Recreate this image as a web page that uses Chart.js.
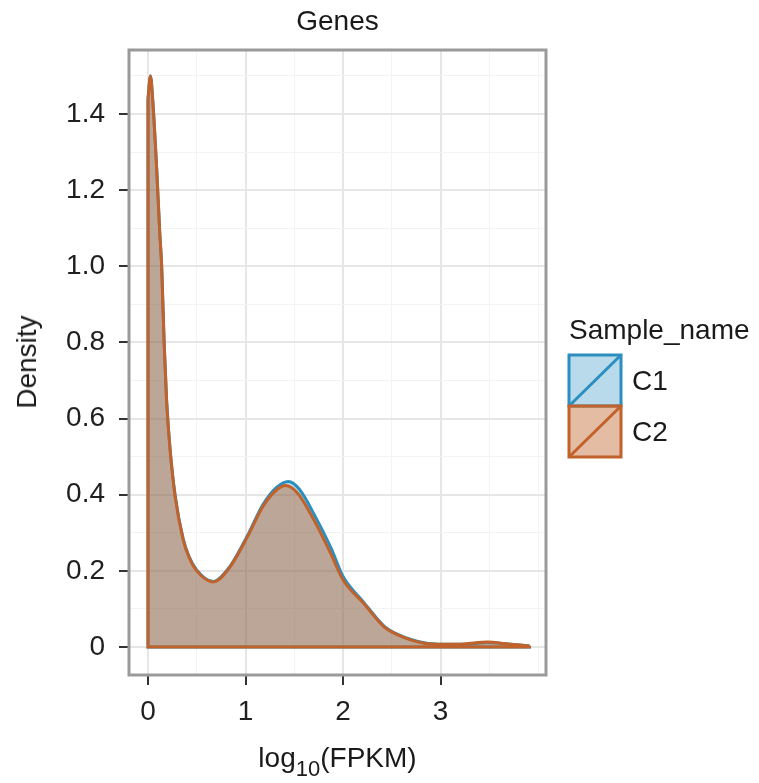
<!DOCTYPE html>
<html lang="en">
<head>
  <meta charset="UTF-8">
  <title>Genes - density</title>
  <script src="https://cdn.jsdelivr.net/npm/chart.js"></script>
  <style>
    body {
      margin: 0;
      background: #ffffff;
      font-family: 'Liberation Sans', Arial, sans-serif;
      color: #1a1a1a;
    }
    #wrap {
      position: relative;
      width: 759px;
      height: 783px;
    }
    canvas { position: absolute; left: 0; top: 0; }
    .txt {
      position: absolute;
      font-size: 28px;
      line-height: 34px;
      white-space: nowrap;
    }
    #title { left: 129px; width: 417px; top: 4px; text-align: center; }
    #xlab { left: 129px; width: 417px; top: 741px; text-align: center; }
    #xlab sub { font-size: 22px; vertical-align: -9px; line-height: 0; }
    #ylab { left: 27px; top: 362px; transform: translate(-50%, -50%) rotate(-90deg); }
    #legTitle { left: 569px; top: 313px; }
    .legLabel { left: 632px; }
    #keys { position: absolute; left: 567px; top: 353px; }
  </style>
</head>
<body>
  <div id="wrap">
    <canvas id="densityChart" width="759" height="783"></canvas>
    <div class="txt" id="title">Genes</div>
    <div class="txt" id="ylab">Density</div>
    <div class="txt" id="xlab">log<sub>10</sub>(FPKM)</div>
    <div class="txt" id="legTitle">Sample_name</div>
    <svg id="keys" width="56" height="108"></svg>
    <div class="txt legLabel" style="top: 364px;">C1</div>
    <div class="txt legLabel" style="top: 415px;">C2</div>
  </div>

  <script>
    // values
    const sampleNames = ['C1', 'C2'];

    const xC1 = [0, 0.025, 0.05, 0.09, 0.12, 0.14, 0.165, 0.19, 0.226, 0.28, 0.36, 0.42, 0.5, 0.67, 0.84, 1.02, 1.18, 1.32, 1.44, 1.55, 1.71, 1.88, 2.0, 2.21, 2.42, 2.56, 2.83, 3.03, 3.24, 3.48, 3.69, 3.91];
    const yC1 = [1.44, 1.50, 1.43, 1.25, 1.09, 1.0, 0.80, 0.65, 0.52, 0.395, 0.285, 0.238, 0.202, 0.172, 0.212, 0.293, 0.375, 0.42, 0.435, 0.415, 0.345, 0.258, 0.185, 0.118, 0.055, 0.033, 0.011, 0.007, 0.007, 0.012, 0.008, 0.003];

    const xC2 = [0, 0.025, 0.05, 0.09, 0.12, 0.14, 0.165, 0.19, 0.226, 0.28, 0.36, 0.42, 0.5, 0.67, 0.84, 1.02, 1.18, 1.32, 1.41, 1.53, 1.70, 1.87, 2.0, 2.21, 2.42, 2.56, 2.83, 3.03, 3.24, 3.48, 3.69, 3.91];
    const yC2 = [1.44, 1.50, 1.43, 1.25, 1.09, 1.0, 0.80, 0.65, 0.52, 0.392, 0.282, 0.236, 0.200, 0.171, 0.21, 0.29, 0.37, 0.413, 0.424, 0.405, 0.334, 0.247, 0.176, 0.115, 0.053, 0.032, 0.01, 0.007, 0.008, 0.013, 0.008, 0.003];

    const xMajorTicks = [0, 1, 2, 3];
    const xTickLabels = ['0', '1', '2', '3'];
    const xMinorTicks = [0.5, 1.5, 2.5, 3.5, 4];
    const yMajorTicks = [0, 0.2, 0.4, 0.6, 0.8, 1.0, 1.2, 1.4];
    const yTickLabels = ['0', '0.2', '0.4', '0.6', '0.8', '1.0', '1.2', '1.4'];
    const yMinorTicks = [0.1, 0.3, 0.5, 0.7, 0.9, 1.1, 1.3, 1.5];

    const lineColors = ['#2a8fc0', '#c0622a'];
    const fillColors = ['rgba(42,143,192,0.33)', 'rgba(192,98,42,0.43)'];
    const FONT = "'Liberation Sans', Arial, sans-serif";

    const series = [[xC1, yC1], [xC2, yC2]];

    function indexOfTick(list, v) {
      return list.findIndex(t => Math.abs(t - v) < 1e-6);
    }

    // build datasets: the curve (filled) and the outline edges (x=0 side, baseline, right end)
    const datasets = [];
    series.forEach(([xs, ys], i) => {
      const pts = xs.map((x, k) => ({ x: x, y: ys[k] }));
      const last = xs.length - 1;
      datasets.push({
        label: sampleNames[i],
        data: pts,
        showLine: true,
        fill: 'origin',
        backgroundColor: fillColors[i],
        borderColor: lineColors[i],
        borderWidth: 3,
        pointRadius: 0,
        cubicInterpolationMode: 'monotone',
        borderJoinStyle: 'round',
        order: (1 - i) * 2 + 1
      });
      datasets.push({
        label: sampleNames[i] + ' edge',
        data: [
          { x: xs[0], y: ys[0] }, { x: xs[0], y: 0 },
          { x: xs[last], y: 0 }, { x: xs[last], y: ys[last] }
        ],
        showLine: true,
        fill: false,
        borderColor: lineColors[i],
        borderWidth: 3,
        pointRadius: 0,
        tension: 0,
        order: (1 - i) * 2
      });
    });

    const panelBorder = {
      id: 'panelBorder',
      afterDraw(chart) {
        const { ctx, chartArea: a } = chart;
        ctx.save();
        ctx.strokeStyle = '#9a9a9a';
        ctx.lineWidth = 3;
        ctx.strokeRect(a.left, a.top, a.right - a.left, a.bottom - a.top);
        ctx.restore();
      }
    };

    function axisOptions(min, max, major, labels, minor, isX) {
      return {
        type: 'linear',
        min: min,
        max: max,
        border: { display: false },
        afterBuildTicks: scale => {
          scale.ticks = major.concat(minor).sort((a, b) => a - b).map(v => ({ value: v }));
        },
        afterFit: scale => {
          if (isX) scale.height = 108; else scale.width = 129;
        },
        grid: {
          color: c => (c.tick && indexOfTick(major, c.tick.value) >= 0) ? '#e6e6e6' : '#f3f3f3',
          lineWidth: c => (c.tick && indexOfTick(major, c.tick.value) >= 0) ? 2 : 1,
          drawTicks: true,
          tickLength: 10,
          tickWidth: 2,
          tickColor: c => (c.tick && indexOfTick(major, c.tick.value) >= 0) ? '#333333' : 'rgba(0,0,0,0)'
        },
        ticks: {
          autoSkip: false,
          maxRotation: 0,
          padding: isX ? 10 : 14,
          color: '#1f1f1f',
          font: { family: FONT, size: 28 },
          callback: v => {
            const k = indexOfTick(major, v);
            return k >= 0 ? labels[k] : '';
          }
        }
      };
    }

    new Chart(document.getElementById('densityChart'), {
      type: 'scatter',
      data: { datasets: datasets },
      options: {
        responsive: false,
        animation: false,
        devicePixelRatio: 1,
        layout: { padding: { top: 50, right: 213, left: 0, bottom: 0 } },
        plugins: {
          legend: { display: false },
          tooltip: { enabled: false },
          title: { display: false }
        },
        scales: {
          x: axisOptions(-0.195, 4.08, xMajorTicks, xTickLabels, xMinorTicks, true),
          y: axisOptions(-0.0735, 1.568, yMajorTicks, yTickLabels, yMinorTicks, false)
        }
      },
      plugins: [panelBorder]
    });

    // legend keys: filled box with a diagonal, as in the reference
    const svgNS = 'http://www.w3.org/2000/svg';
    const keys = document.getElementById('keys');
    sampleNames.forEach((name, i) => {
      const y0 = 2 + i * 51;
      const rect = document.createElementNS(svgNS, 'rect');
      rect.setAttribute('x', 2);
      rect.setAttribute('y', y0);
      rect.setAttribute('width', 52);
      rect.setAttribute('height', 51);
      rect.setAttribute('fill', fillColors[i]);
      rect.setAttribute('stroke', lineColors[i]);
      rect.setAttribute('stroke-width', 3);
      keys.appendChild(rect);
      const diag = document.createElementNS(svgNS, 'line');
      diag.setAttribute('x1', 2);
      diag.setAttribute('y1', y0 + 51);
      diag.setAttribute('x2', 54);
      diag.setAttribute('y2', y0);
      diag.setAttribute('stroke', lineColors[i]);
      diag.setAttribute('stroke-width', 3);
      keys.appendChild(diag);
    });
  </script>
</body>
</html>
